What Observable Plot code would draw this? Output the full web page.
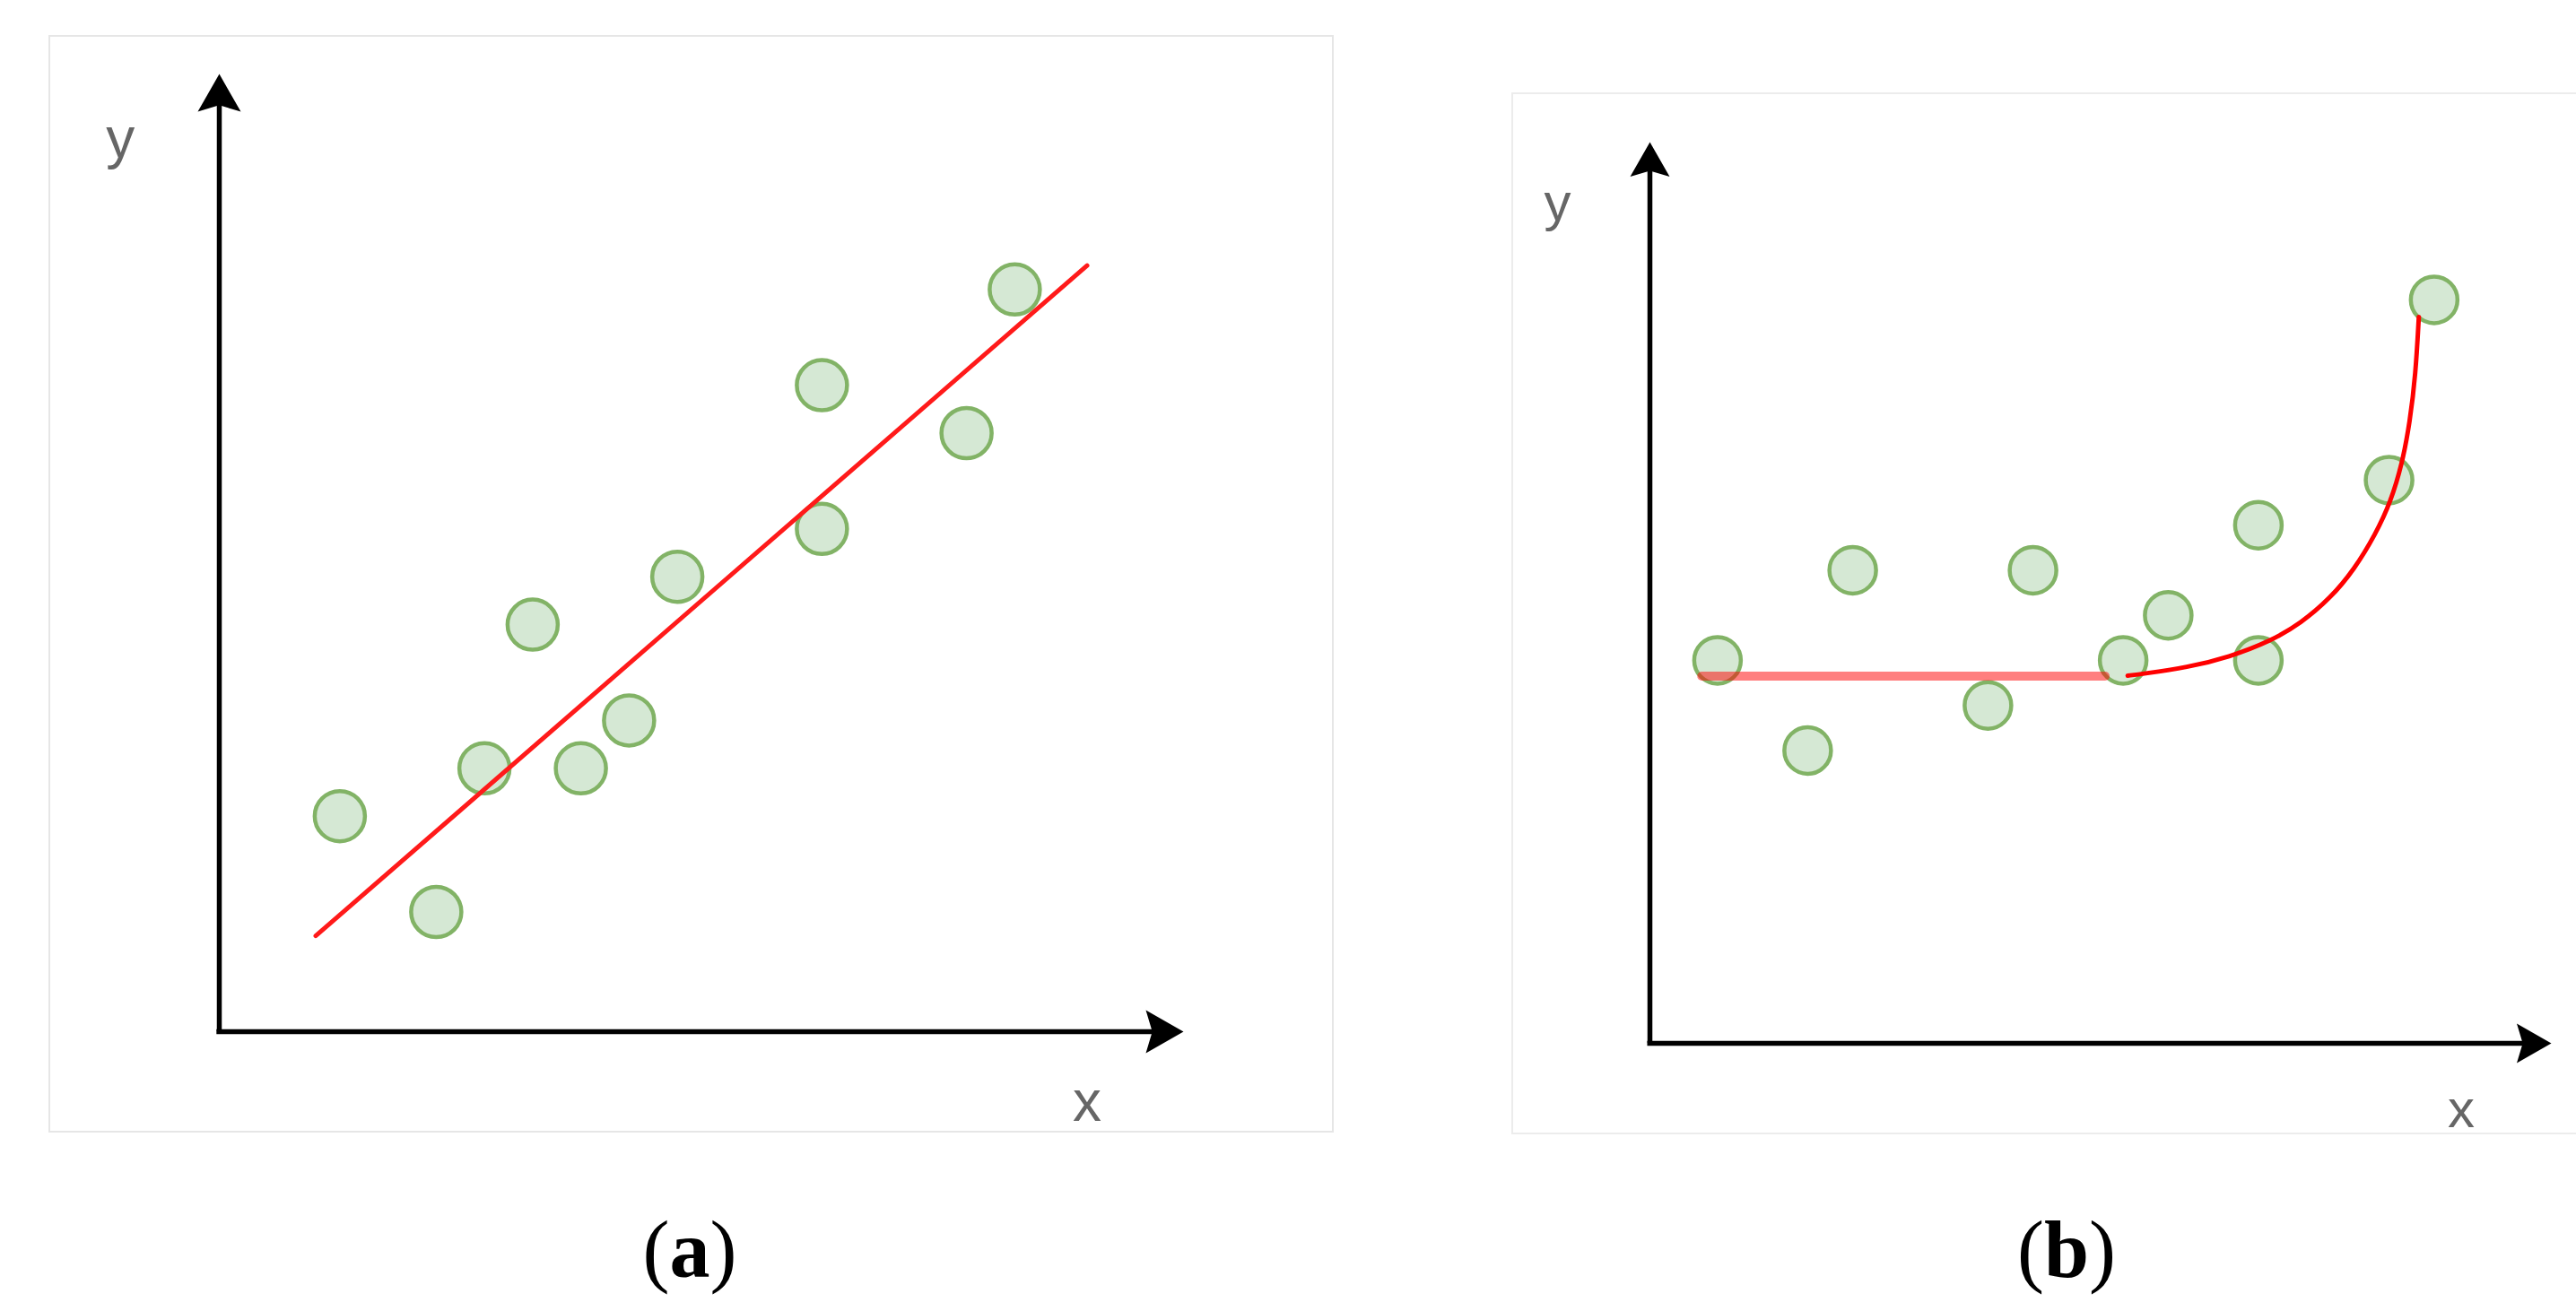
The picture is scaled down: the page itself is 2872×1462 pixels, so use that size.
<!DOCTYPE html>
<html>
<head>
<meta charset="utf-8">
<script src="https://cdn.jsdelivr.net/npm/d3@7"></script>
<script src="https://cdn.jsdelivr.net/npm/@observablehq/plot@0.6"></script>
<style>
  html, body { margin: 0; padding: 0; background: #fff; }
  body { width: 2872px; height: 1462px; overflow: hidden; position: relative; }
  .panel { position: absolute; box-sizing: border-box; border: 2px solid #e6e6e6; background: #fff; }
  .panel svg { display: block; }
  .cap { position: absolute; font-family: "Liberation Serif", "DejaVu Serif", serif; font-size: 90px; line-height: 1; text-align: center; color: #000; white-space: nowrap; }
  .cap b { font-weight: bold; }
</style>
</head>
<body>
<div id="pa" class="panel" style="left:54px; top:39px; width:1433px; height:1224px;"></div>
<div id="pb" class="panel" style="left:1685px; top:103px; width:1246px; height:1162px; border-color:#ececec;"></div>
<div class="cap" style="left:669px; top:1349px; width:200px;">(<b>a</b>)</div>
<div class="cap" style="left:2204px; top:1349px; width:200px;">(<b>b</b>)</div>
<script>
// ---- data (grid units; axes run 0..20) ----
const axisMax = [20];
const axisZero = [0];

// panel (a): linear fit
const aX = [2.5, 4.5, 5.5, 6.5, 7.5, 8.5, 9.5, 12.5, 12.5, 15.5, 16.5];
const aY = [4.5, 2.5, 5.5, 8.5, 5.5, 6.5, 9.5, 13.5, 10.5, 12.5, 15.5];
const aFitX = [2, 18];
const aFitY = [2, 16];

// panel (b): non-linear fit
const bX = [1.5, 3.5, 4.5, 7.5, 8.5, 10.5, 11.5, 13.5, 13.5, 16.4, 17.4];
const bY = [8.5, 6.5, 10.5, 7.5, 10.5, 8.5, 9.5, 11.5, 8.5, 12.5, 16.5];
const bFlatX = [1.15, 10.1];
const bFlatY = [8.15, 8.15];
const bCurveX = [10.6, 10.93, 11.92, 12.85, 13.78, 14.44, 15.1, 15.63, 16.1, 16.43, 16.69, 16.86, 16.99, 17.06];
const bCurveY = [8.16, 8.2, 8.34, 8.57, 8.93, 9.32, 9.88, 10.52, 11.3, 12.0, 12.86, 13.78, 14.85, 16.12];

// axis-name labels
const labelText = ["y", "x"];
const labelX = [-2.05, 18.0];
const labelY = [18.25, -1.86];

// ---- arrowhead symbols ----
const arrowUp = {
  draw(ctx, size) {
    const s = Math.sqrt(size / Math.PI);
    ctx.moveTo(0, 0);
    ctx.lineTo(s, s * 1.75);
    ctx.lineTo(0, s * 1.45);
    ctx.lineTo(-s, s * 1.75);
    ctx.closePath();
  }
};
const arrowRight = {
  draw(ctx, size) {
    const s = Math.sqrt(size / Math.PI);
    ctx.moveTo(0, 0);
    ctx.lineTo(-s * 1.75, -s);
    ctx.lineTo(-s * 1.45, 0);
    ctx.lineTo(-s * 1.75, s);
    ctx.closePath();
  }
};

function panel(opts) {
  const {W, H, mL, mR, mT, mB, px, py, fitMarks, headR, dotR, fontSize} = opts;
  return Plot.plot({
    width: W, height: H,
    marginLeft: mL, marginRight: mR, marginTop: mT, marginBottom: mB,
    x: {type: "linear", domain: [0, 20], axis: null},
    y: {type: "linear", domain: [0, 20], axis: null},
    style: {background: "transparent", overflow: "visible"},
    marks: [
      Plot.ruleX(axisZero, {x: d => d, y1: 0, y2: axisMax[0] - 0.5, stroke: "#000", strokeWidth: 5.5}),
      Plot.ruleY(axisZero, {y: d => d, x1: -0.05, x2: axisMax[0] - 0.5, stroke: "#000", strokeWidth: 5.5}),
      Plot.dot(axisMax, {x: 0, y: d => d, symbol: arrowUp, r: headR, fill: "#000", stroke: "none"}),
      Plot.dot(axisMax, {x: d => d, y: 0, symbol: arrowRight, r: headR, fill: "#000", stroke: "none"}),
      Plot.dot(px, {x: px, y: py, r: dotR, fill: "#d5e8d4", stroke: "#82b366", strokeWidth: 4.5}),
      ...fitMarks,
      Plot.text(labelText, {x: labelX, y: labelY, text: d => d, fill: "#666", fontSize, fontFamily: "Liberation Sans, Arial, sans-serif", textAnchor: "middle", lineAnchor: "bottom"})
    ]
  });
}

const chartA = panel({
  W: 1429, H: 1220, mL: 188, mR: 166, mT: 41, mB: 111,
  px: aX, py: aY, headR: 24, dotR: 28, fontSize: 64,
  fitMarks: [
    Plot.line(aFitX, {x: aFitX, y: aFitY, stroke: "#ff1a1a", strokeWidth: 5})
  ]
});
document.getElementById("pa").appendChild(chartA);

const chartB = panel({
  W: 1242, H: 1158, mL: 152, mR: 85, mT: 53, mB: 100,
  px: bX, py: bY, headR: 22, dotR: 26, fontSize: 60,
  fitMarks: [
    Plot.line(bFlatX, {x: bFlatX, y: bFlatY, stroke: "#ff0000", strokeOpacity: 0.5, strokeWidth: 10}),
    Plot.line(bCurveX, {x: bCurveX, y: bCurveY, curve: "basis", stroke: "#ff0000", strokeWidth: 5})
  ]
});
document.getElementById("pb").appendChild(chartB);
</script>
</body>
</html>
